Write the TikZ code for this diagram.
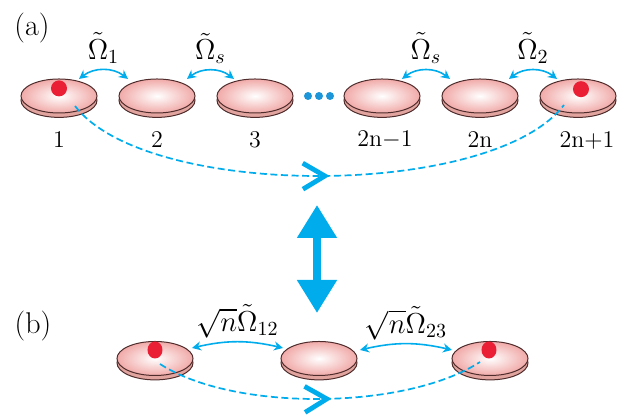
\documentclass[tikz,border=0pt]{standalone}
\usepackage{xcolor}
\usepackage{tikz}
\usetikzlibrary{arrows.meta,positioning,shapes.geometric,decorations.markings}
\definecolor{accent}{RGB}{0,172,236}
\definecolor{dotblue}{RGB}{28,150,216}
\definecolor{diskpink}{RGB}{240,170,168}
\definecolor{rimpink}{RGB}{226,164,158}
\definecolor{diskline}{RGB}{78,44,44}
\definecolor{dotred}{RGB}{234,30,52}

\begin{document}
\begin{tikzpicture}[
  x=0.5pt, y=0.5pt,
  node distance=11pt and 11pt,
  disk/.style={shape=ellipse, draw=diskline, line width=0.5pt, inner sep=0pt, outer sep=0pt,
    minimum width=38pt, minimum height=17pt, inner color=white, outer color=diskpink,
    preaction={fill=rimpink, draw=diskline, line width=0.5pt, transform canvas={yshift=-2.2pt}}},
  coupling/.style={{Stealth[length=4.5pt,width=4.5pt]}-{Stealth[length=4.5pt,width=4.5pt]}, line width=0.8pt, accent},
  hop/.style={accent, line width=0.85pt, dash pattern=on 3.5pt off 1.8pt,
    decoration={markings, mark=at position #1 with {\draw[solid, line width=2.4pt, line join=miter] (-11pt,6.5pt) -- (0pt,0pt) -- (-11pt,-6.5pt);}},
    postaction={decorate}},
  bigarrow/.style={{Triangle[length=16.5pt,width=19pt]}-{Triangle[length=16.5pt,width=19pt]}, line width=4pt, accent},
  num/.style={font=\fontsize{12}{14}\selectfont, inner sep=0pt},
  rate/.style={above=2pt, inner sep=1pt, text=black, font=\fontsize{14}{17}\selectfont},
  tag/.style={font=\fontsize{15}{18}\selectfont, inner sep=0pt}
]
  \useasboundingbox (0,0) rectangle (618,415);

  % (a) chain of 2n+1 disks
  \node[tag] (taga) at (32,387) {(a)};
  \node[disk] (d1) at (59,319) {};
  \node[disk, right=of d1] (d2) {};
  \node[disk, right=of d2] (d3) {};
  \node[disk, right=25.5pt of d3] (d4) {};
  \node[disk, right=of d4] (d5) {};
  \node[disk, right=of d5] (d6) {};
  \foreach \dx in {308,319,330}
    \fill[dotblue] (\dx,319) circle (4);

  \node[num] (n1) at ([yshift=-22pt]d1.center) {1};
  \node[num] (n2) at ([yshift=-22pt]d2.center) {2};
  \node[num] (n3) at ([yshift=-22pt]d3.center) {3};
  \node[num] (n4) at ([shift={(1.5pt,-22pt)}]d4.center) {2n$-$1};
  \node[num] (n5) at ([yshift=-22pt]d5.center) {2n};
  \node[num] (n6) at ([shift={(4.5pt,-22pt)}]d6.center) {2n+1};

  \draw[coupling] ([shift={(10pt,8.5pt)}]d1.center) to[bend left=38] node[rate] {$\tilde{\Omega}_1$} ([shift={(-14.5pt,8.5pt)}]d2.center);
  \draw[coupling] ([shift={(15pt,8.5pt)}]d2.center) to[bend left=38] node[rate] {$\tilde{\Omega}_s$} ([shift={(-10.5pt,8.5pt)}]d3.center);
  \draw[coupling] ([shift={(10pt,8.5pt)}]d4.center) to[bend left=38] node[rate] {$\tilde{\Omega}_s$} ([shift={(-15pt,8.5pt)}]d5.center);
  \draw[coupling] ([shift={(14.5pt,8.5pt)}]d5.center) to[bend left=38] node[rate] {$\tilde{\Omega}_2$} ([shift={(-10.5pt,8.5pt)}]d6.center);

  \fill[dotred] ([yshift=3.8pt]d1.center) circle (8);
  \fill[dotred] ([shift={(1.5pt,3.4pt)}]d6.center) circle (8);

  \coordinate (s1) at ([shift={(8pt,-5pt)}]d1.center);
  \coordinate (s6) at ([shift={(-7pt,-4.5pt)}]d6.center);
  \draw[hop=0.51] (s1) .. controls +(72,-94) and +(-72,-94) .. (s6);

  % equivalence
  \coordinate (up) at (317,210);
  \coordinate (dn) at (317,102);
  \draw[bigarrow] (dn) -- (up);

  % (b) reduced three-disk model
  \node[tag] (tagb) at (33,89) {(b)};
  \node[disk] (b1) at (155,56.5) {};
  \node[disk, right=44pt of b1] (b2) {};
  \node[disk, right=47.5pt of b2] (b3) {};

  \draw[coupling] ([shift={(18.5pt,5.25pt)}]b1.center) to[bend left=13] node[rate, above=0.5pt] {$\sqrt{n}\tilde{\Omega}_{12}$} ([shift={(-18pt,5.25pt)}]b2.center);
  \draw[coupling] ([shift={(20.5pt,4.25pt)}]b2.center) to[bend left=13] node[rate, above=0.5pt] {$\sqrt{n}\tilde{\Omega}_{23}$} ([shift={(-19pt,4.25pt)}]b3.center);

  \fill[dotred] ([yshift=4.25pt]b1.center) ellipse [x radius=7.5, y radius=8.5];
  \fill[dotred] ([shift={(-0.5pt,4.25pt)}]b3.center) ellipse [x radius=7.5, y radius=8.5];

  \coordinate (t1) at ([shift={(2.5pt,-2.75pt)}]b1.center);
  \coordinate (t3) at ([shift={(-5pt,-1.75pt)}]b3.center);
  \draw[hop=0.52] (t1) .. controls +(74,-48) and +(-74,-48) .. (t3);
\end{tikzpicture}
\end{document}
